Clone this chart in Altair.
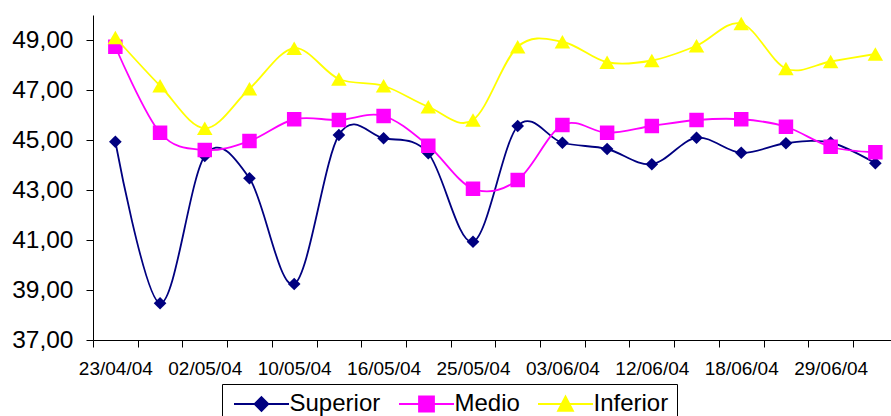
import json
import altair as alt
import pandas as pd

# ---- data ----
date_labels = ["23/04/04", "02/05/04", "10/05/04", "16/05/04", "25/05/04",
               "03/06/04", "12/06/04", "18/06/04", "29/06/04"]
series_names = ["Superior", "Medio", "Inferior"]
superior = [44.93, 38.47, 44.36, 43.47, 39.24, 45.20, 45.07, 44.47, 40.93,
            45.56, 44.89, 44.64, 44.03, 45.09, 44.49, 44.87, 44.90, 44.07]
medio = [48.73, 45.29, 44.60, 44.96, 45.83, 45.80, 45.96, 44.77, 43.05,
         43.40, 45.60, 45.29, 45.56, 45.80, 45.83, 45.53, 44.73, 44.51]
inferior = [49.10, 47.17, 45.47, 47.05, 48.67, 47.44, 47.17, 46.33, 45.80,
            48.73, 48.93, 48.11, 48.18, 48.77, 49.66, 47.86, 48.14, 48.44]
y_ticks = [37, 39, 41, 43, 45, 47, 49]

series_colors = ["#000080", "#FF00FF", "#FFFF00"]
marker_shapes = ["diamond", "square", "triangle-up"]
marker_sizes = [160, 210, 240]
legend_paths = [
    "M-4,0H4M0,-1L1,0L0,1L-1,0Z",
    "M-4,0H4M-1.09,-1.09H1.09V1.09H-1.09Z",
    "M-4,0H4M0,-1.09L1.09,1.0L-1.09,1.0Z",
]

values_by_series = {"Superior": superior, "Medio": medio, "Inferior": inferior}
rows = []
for s in series_names:
    for i, v in enumerate(values_by_series[s]):
        rows.append({"idx": i, "series": s, "value": v})
df = pd.DataFrame(rows)

n = len(superior)
label_arr = json.dumps(date_labels)
x_label_expr = f"(datum.value + 0.5) % 2 == 0 ? {label_arr}[(datum.value + 0.5) / 2] : ''"

x_enc = alt.X(
    "idx:Q",
    scale=alt.Scale(domain=[-0.5, n - 0.65], nice=False, zero=False),
    axis=alt.Axis(
        values=[i - 0.5 for i in range(n)],
        labelExpr=x_label_expr,
        labelOffset=22.35,
        tickSize=7,
        labelPadding=12,
        labelFontSize=19,
        labelFlush=False,
        labelOverlap=False,
        labelBound=False,
        grid=False,
        title=None,
    ),
)
y_enc = alt.Y(
    "value:Q",
    scale=alt.Scale(domain=[37, 50], nice=False, zero=False),
    axis=alt.Axis(
        values=y_ticks,
        labelExpr="replace(format(datum.value, '.2f'), '.', ',')",
        tickSize=7,
        labelPadding=13,
        labelFontSize=24.5,
        labelFlush=False,
        labelOverlap=False,
        grid=False,
        title=None,
    ),
)

base = alt.Chart(df)
layers = []
for s, c, shp, sz in zip(series_names, series_colors, marker_shapes, marker_sizes):
    sub = base.transform_filter(alt.datum.series == s)
    layers.append(
        sub.mark_line(interpolate="cardinal", color=c, strokeWidth=1.8).encode(x=x_enc, y=y_enc)
    )
    layers.append(
        sub.mark_point(shape=shp, size=sz, filled=True, color=c, opacity=1).encode(x=x_enc, y=y_enc)
    )

legend = alt.Legend(
    orient="none",
    legendX=129,
    legendY=369,
    direction="horizontal",
    title=None,
    labelFontSize=24,
    labelFont="Liberation Sans",
    labelColor="black",
    symbolSize=189,
    symbolStrokeWidth=1.8,
    symbolOffset=19.5,
    labelOffset=16,
    columnPadding=14,
    padding=8,
    strokeColor="black",
    fillColor="white",
    labelLimit=0,
)
leg_layer = base.transform_filter("false").mark_point(
    filled=True, size=189, opacity=1, strokeWidth=1.8
).encode(
    x=x_enc,
    y=y_enc,
    fill=alt.Fill("series:N", sort=series_names,
                  scale=alt.Scale(domain=series_names, range=series_colors), legend=legend),
    stroke=alt.Stroke("series:N", sort=series_names,
                      scale=alt.Scale(domain=series_names, range=series_colors), legend=legend),
    shape=alt.Shape("series:N", sort=series_names,
                    scale=alt.Scale(domain=series_names, range=legend_paths), legend=legend),
)

chart = (
    alt.layer(*layers, leg_layer)
    .properties(
        width=798,
        height=325,
        padding={"left": 93, "top": 15, "right": 0, "bottom": 76},
        autosize=alt.AutoSizeParams(type="none"),
        background="white",
    )
    .configure(font="Liberation Sans")
    .configure_axis(
        domainColor="black",
        domainWidth=1,
        tickColor="black",
        tickWidth=1,
        labelColor="black",
        labelFont="Liberation Sans",
    )
    .configure_view(stroke=None)
)

chart.save("out.html", embed_options={"renderer": "svg", "actions": False})
